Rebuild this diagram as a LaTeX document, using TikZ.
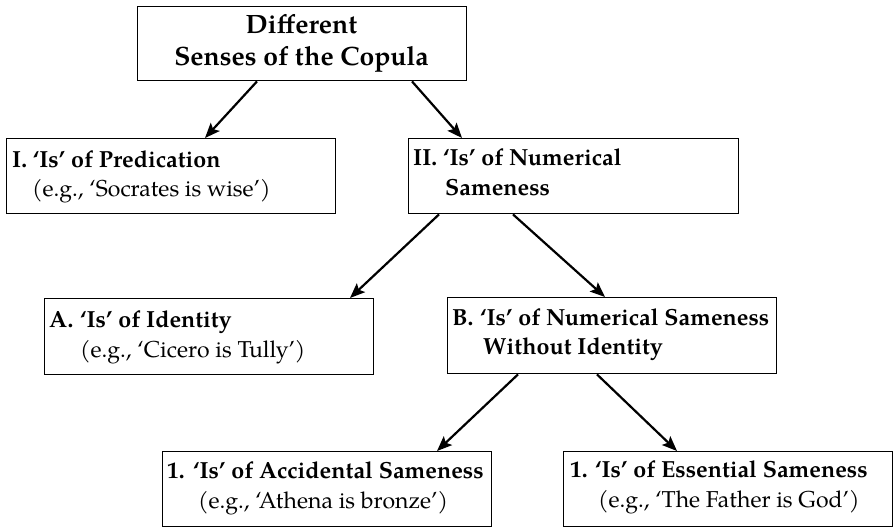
\documentclass[tikz,border=0pt]{standalone}
\usepackage{fontspec}
\setmainfont{texgyrepagella}[Extension=.otf, UprightFont=*-regular, BoldFont=*-bold, ItalicFont=*-italic, BoldItalicFont=*-bolditalic]
\usetikzlibrary{arrows.meta,calc}
\begin{document}
\begin{tikzpicture}[x=1pt,y=-1pt,
  box/.style={draw=black, line width=1.4pt, rectangle, inner sep=0pt, anchor=north west},
  txt/.style={anchor=base west, inner sep=0pt, font=\fontsize{23}{27}\selectfont},
  txtb/.style={anchor=base west, inner sep=0pt, font=\fontsize{23.3}{27}\selectfont\bfseries},
  ttl/.style={anchor=base, inner sep=0pt, font=\fontsize{26.5}{30}\selectfont\bfseries},
  arr/.style={line width=2.2pt, -{Stealth[length=15pt,width=12pt,inset=3pt]}}]
\useasboundingbox (0,0) rectangle (895,528);
% boxes
\node[box, minimum width=329pt, minimum height=74pt] (T) at (137,6) {};
\node[box, minimum width=329pt, minimum height=75pt] (I) at (6,138) {};
\node[box, minimum width=330pt, minimum height=75pt] (II) at (408,138) {};
\node[box, minimum width=329pt, minimum height=76pt] (A) at (44,298) {};
\node[box, minimum width=329pt, minimum height=76pt] (B) at (447,297) {};
\node[box, minimum width=329pt, minimum height=75pt] (C) at (162,451) {};
\node[box, minimum width=329pt, minimum height=75pt] (D) at (563,451) {};
% texts
\node[ttl] (t1) at (301.5,33) {Different};
\node[ttl] (t2) at (301.5,65) {Senses of the Copula};
\node[txtb] (i1) at (12,167) {I. ‘Is’ of Predication};
\node[txt] (i2) at (32,196) {(e.g., ‘Socrates is wise’)};
\node[txtb] (ii0) at (413,165) {II.};
\node[txtb] (ii1) at (443,165) {‘Is’ of Numerical};
\node[txtb] (ii2) at (445,195) {Sameness};
\node[txtb] (a0) at (49,327) {A.};
\node[txtb] (a1) at (80,327) {‘Is’ of Identity};
\node[txt] (a2) at (80,357) {(e.g., ‘Cicero is Tully’)};
\node[txtb] (b0) at (452,325) {B.};
\node[txtb] (b1) at (480,325) {‘Is’ of Numerical Sameness};
\node[txtb] (b2) at (483,354) {Without Identity};
\node[txtb] (c0) at (167,478) {1.};
\node[txtb] (c1) at (193,478) {‘Is’ of Accidental Sameness};
\node[txt] (c2) at (198,508) {(e.g., ‘Athena is bronze’)};
\node[txtb] (d0) at (570,477) {1.};
\node[txtb] (d1) at (595,477) {‘Is’ of Essential Sameness};
\node[txt] (d2) at (598,507) {(e.g., ‘The Father is God’)};
% arrows
\draw[arr] ($(T.south west)+(120,0)$) -- ($(I.north west)+(199,0)$);
\draw[arr] ($(T.south west)+(275,0)$) -- ($(II.north west)+(54,0)$);
\draw[arr] ($(II.south west)+(31,0)$) -- ($(A.north west)+(306,0)$);
\draw[arr] ($(II.south west)+(105,0)$) -- ($(B.north west)+(158,0)$);
\draw[arr] ($(B.south west)+(71,0)$) -- ($(C.north west)+(275,0)$);
\draw[arr] ($(B.south west)+(150,0)$) -- ($(D.north west)+(114,0)$);
\end{tikzpicture}
\end{document}
